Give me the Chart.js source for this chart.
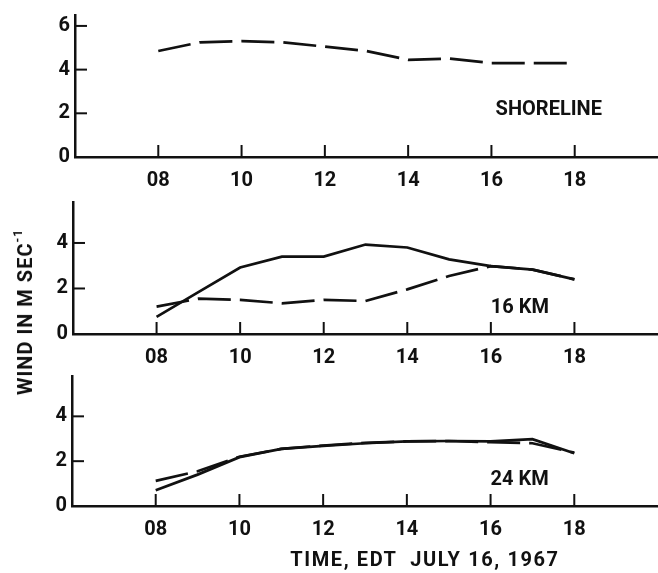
<!DOCTYPE html>
<html>
<head>
<meta charset="utf-8">
<script src="https://cdn.jsdelivr.net/npm/chart.js@4.4.0/dist/chart.umd.min.js"></script>
<style>
  html, body { margin: 0; padding: 0; background: #fff; }
  #wrap { position: relative; width: 658px; height: 573px; overflow: hidden; }
  #wrap canvas { position: absolute; left: 0; }
  .lbl { position: absolute; font-family: Roboto, sans-serif; font-weight: bold; font-size: 20px; color: #111; white-space: nowrap; }
  .lbl sup { font-size: 12px; position: relative; top: -2px; }
  #ytitle { left: 25px; top: 312px; letter-spacing: 1px; transform: translate(-50%, -50%) rotate(-90deg); }
  #xtitle { left: 425px; top: 559px; letter-spacing: 1.6px; transform: translate(-50%, -50%); }
</style>
</head>
<body>
<div id="wrap">
  <canvas id="pShore" width="658" height="200" style="top:0px"></canvas>
  <canvas id="p16" width="658" height="183" style="top:187px"></canvas>
  <canvas id="p24" width="658" height="212" style="top:361px"></canvas>
  <div id="ytitle" class="lbl">WIND IN M SEC<sup>-1</sup></div>
  <div id="xtitle" class="lbl">TIME, EDT &nbsp;JULY 16, 1967</div>
</div>
<script>
// ---- data (m/s, hourly EDT) ----
const hours = [8, 9, 10, 11, 12, 13, 14, 15, 16, 17, 18];
const shoreline = [4.85, 5.25, 5.3, 5.25, 5.05, 4.85, 4.45, 4.5, 4.3, 4.3, 4.3];
const km16Solid = [0.75, 1.84, 2.92, 3.4, 3.4, 3.93, 3.8, 3.28, 2.98, 2.83, 2.4];
const km16Dashed = [1.2, 1.55, 1.5, 1.35, 1.5, 1.45, 1.96, 2.55, 2.98, 2.83, 2.4];
const km24Solid = [0.7, 1.4, 2.18, 2.55, 2.68, 2.8, 2.88, 2.9, 2.88, 2.98, 2.35];
const km24Dashed = [1.12, 1.55, 2.2, 2.55, 2.7, 2.82, 2.88, 2.9, 2.85, 2.8, 2.38];

const xTickValues = [8, 10, 12, 14, 16, 18];
const xTickLabels = ['08', '10', '12', '14', '16', '18'];
const yTicksTop = [0, 2, 4, 6];
const yTicksLower = [0, 2, 4];

const INK = '#111';
const FONT = { family: 'Roboto, sans-serif', weight: 'bold', size: 20, lineHeight: 1 };
const DASH = [33, 9];

// inward tick marks + the panel's name
const innerTicks = {
  id: 'innerTicks',
  afterDraw(chart, args, opts) {
    const { ctx, chartArea, scales } = chart;
    ctx.save();
    ctx.strokeStyle = INK;
    ctx.lineWidth = 2;
    scales.x.ticks.forEach(t => {
      const px = scales.x.getPixelForValue(t.value);
      ctx.beginPath();
      ctx.moveTo(px, chartArea.bottom);
      ctx.lineTo(px, chartArea.bottom - 12);
      ctx.stroke();
    });
    scales.y.ticks.forEach(t => {
      if (t.value === 0) return;
      const py = scales.y.getPixelForValue(t.value);
      ctx.beginPath();
      ctx.moveTo(chartArea.left, py);
      ctx.lineTo(chartArea.left + 12, py);
      ctx.stroke();
    });
    if (opts.text) {
      ctx.fillStyle = INK;
      ctx.font = 'bold 20px Roboto, sans-serif';
      ctx.textBaseline = 'middle';
      ctx.textAlign = 'left';
      ctx.fillText(opts.text, scales.x.getPixelForValue(opts.x), scales.y.getPixelForValue(opts.y));
    }
    ctx.restore();
  }
};

function line(data, dashed) {
  return {
    data: hours.map((h, i) => ({ x: h, y: data[i] })),
    borderColor: INK,
    borderWidth: 2.7,
    borderDash: dashed ? DASH : [],
    pointRadius: 0,
    tension: 0,
    fill: false
  };
}

function makePanel(id, p) {
  return new Chart(document.getElementById(id), {
    type: 'line',
    data: { datasets: p.datasets },
    options: {
      responsive: false,
      animation: false,
      layout: { padding: { top: p.padTop, left: 0, right: 0, bottom: 0 } },
      plugins: {
        legend: { display: false },
        tooltip: { enabled: false },
        innerTicks: p.tag
      },
      scales: {
        x: {
          type: 'linear',
          min: 6, max: 20,
          afterBuildTicks: s => { s.ticks = xTickValues.map(v => ({ value: v })); },
          afterFit: s => { s.height = p.xAxisH; },
          grid: { drawOnChartArea: false, drawTicks: false },
          border: { display: true, color: INK, width: 2.5 },
          ticks: {
            color: INK, font: FONT, padding: 14, maxRotation: 0,
            callback: (v, i) => xTickLabels[i]
          }
        },
        y: {
          min: 0, max: p.yMax,
          afterBuildTicks: s => { s.ticks = p.yTicks.map(v => ({ value: v })); },
          afterFit: s => { s.width = p.axisLeft; },
          grid: { drawOnChartArea: false, drawTicks: false },
          border: { display: true, color: INK, width: 2.5 },
          ticks: { color: INK, font: FONT, padding: 5, callback: v => String(v) }
        }
      }
    },
    plugins: [innerTicks]
  });
}

makePanel('pShore', {
  padTop: 12, axisLeft: 75, xAxisH: 43, yMax: 6.5, yTicks: yTicksTop,
  datasets: [line(shoreline, true)],
  tag: { text: 'SHORELINE', x: 16.1, y: 2.15 }
});
makePanel('p16', {
  padTop: 14, axisLeft: 73, xAxisH: 36, yMax: 5.8, yTicks: yTicksLower,
  datasets: [line(km16Solid, false), line(km16Dashed, true)],
  tag: { text: '16 KM', x: 16.0, y: 1.13 }
});
makePanel('p24', {
  padTop: 14, axisLeft: 72, xAxisH: 67, yMax: 5.8, yTicks: yTicksLower,
  datasets: [line(km24Solid, false), line(km24Dashed, true)],
  tag: { text: '24 KM', x: 16.0, y: 1.16 }
});
</script>
</body>
</html>
